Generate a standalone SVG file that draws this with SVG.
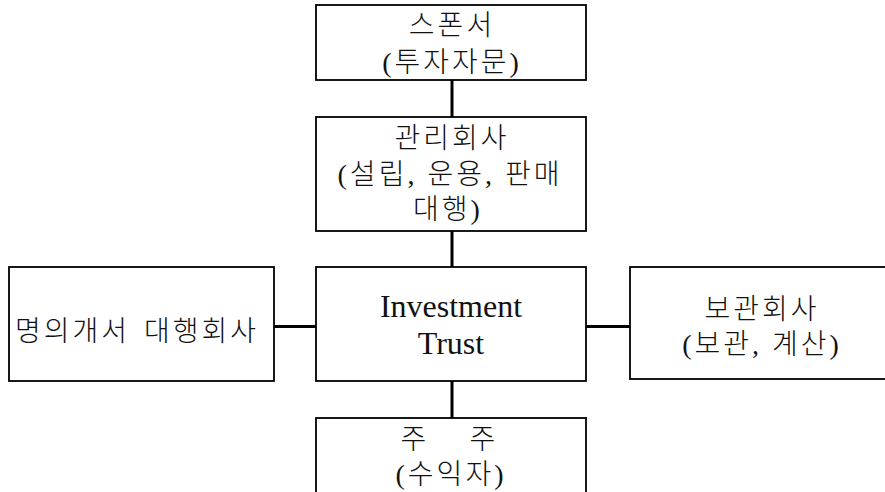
<svg xmlns="http://www.w3.org/2000/svg" width="885" height="492" viewBox="0 0 885 492">
<style>
.box{fill:#fff;stroke:#000;stroke-width:1.8}
.con{stroke:#000;stroke-width:3;fill:none}
text{font-family:"Liberation Serif","Noto Sans CJK KR",serif;font-size:28px;font-weight:300;fill:#111;text-anchor:middle;letter-spacing:3px}
.en{font-family:"Liberation Serif",serif;font-size:32px;font-weight:400;letter-spacing:0}
</style>
<rect width="885" height="492" fill="#fff"/>
<g id="connectors">
<line class="con" x1="452" y1="80" x2="452" y2="117"/>
<line class="con" x1="452" y1="231" x2="452" y2="267"/>
<line class="con" x1="452" y1="381" x2="452" y2="418"/>
<line class="con" x1="274" y1="326.5" x2="316" y2="326.5"/>
<line class="con" x1="586" y1="326.5" x2="630" y2="326.5"/>
</g>
<g id="sponsor">
<rect class="box" x="316" y="5" width="270" height="75"/>
<text x="452" y="35">스폰서</text>
<text x="452" y="72">(투자자문)</text>
</g>
<g id="manager">
<rect class="box" x="316" y="117" width="270" height="114"/>
<text x="452" y="148">관리회사</text>
<text x="450" y="184">(설립, 운용, 판매</text>
<text x="448" y="219">대행)</text>
</g>
<g id="trust">
<rect class="box" x="316" y="267" width="270" height="114"/>
<text class="en" x="451" y="317">Investment</text>
<text class="en" x="451" y="354">Trust</text>
</g>
<g id="registrar">
<rect class="box" x="9" y="267" width="265" height="114"/>
<text x="137" y="341">명의개서<tspan dx="14">대행회사</tspan></text>
</g>
<g id="custodian">
<rect class="box" x="630" y="267" width="265" height="112"/>
<text x="762" y="319">보관회사</text>
<text x="762" y="354">(보관, 계산)</text>
</g>
<g id="shareholder">
<rect class="box" x="316" y="418" width="270" height="90"/>
<text y="449"><tspan x="415">주</tspan><tspan x="484">주</tspan></text>
<text x="451" y="484">(수익자)</text>
</g>
</svg>
